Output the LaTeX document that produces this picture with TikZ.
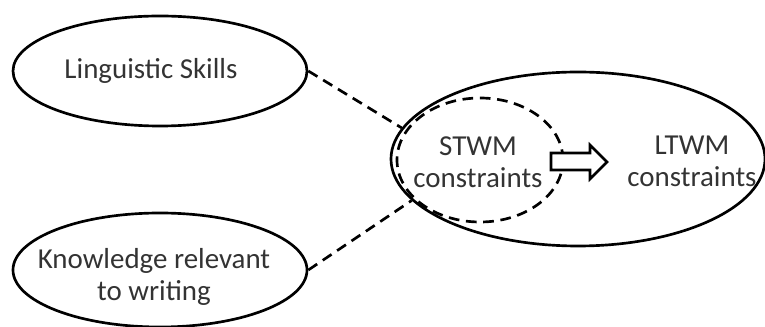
\documentclass[tikz,border=0pt]{standalone}
\usepackage{fontspec}
\setmainfont{Carlito}
\usetikzlibrary{shapes.geometric}

\tikzset{
  oval/.style={ellipse, draw=black, line width=2pt, inner sep=0pt},
  lbl/.style={font=\fontsize{21.7}{24}\selectfont, text=black!80, align=center, inner sep=0pt},
  link/.style={draw=black, line width=2pt, dash pattern=on 8pt off 5pt},
  blockarrow/.style={draw=black, fill=white, line width=2pt, line join=miter}
}

\begin{document}
\begin{tikzpicture}[x=0.75pt, y=-0.75pt]
  \useasboundingbox (0,0) rectangle (765,327);

  % outer working-memory ellipse and the short-term region inside it
  \node[oval, minimum width=280.5pt, minimum height=130.5pt] (ltwm) at (578,159) {};
  \node[oval, dash pattern=on 8pt off 5pt, minimum width=124.5pt, minimum height=93pt] (stwm) at (480,160) {};

  % the two input ellipses
  \node[oval, minimum width=220.5pt, minimum height=82.5pt] (ling) at (160,71) {};
  \node[oval, minimum width=220.5pt, minimum height=85.5pt] (know) at (160,270) {};

  % labels
  \node[lbl] (lingT) at (151,71) {Linguistic Skills};
  \node[lbl] (knowT) at (154,277) {Knowledge relevant\\to writing};
  \node[lbl] (stwmT) at (478,162) {STWM\\constraints};
  \node[lbl] (ltwmT) at (692,161) {LTWM\\constraints};

  % transfer arrow from short-term to long-term
  \draw[blockarrow] (551,153) -- (590,153) -- (590,145) -- (607,162)
    -- (590,179) -- (590,170) -- (551,170) -- cycle;

  % dashed links from the inputs to working memory
  \draw[link] (ling.east) -- (ltwm.170.1);
  \draw[link] (know.east) -- (ltwm.194.6);
\end{tikzpicture}
\end{document}
